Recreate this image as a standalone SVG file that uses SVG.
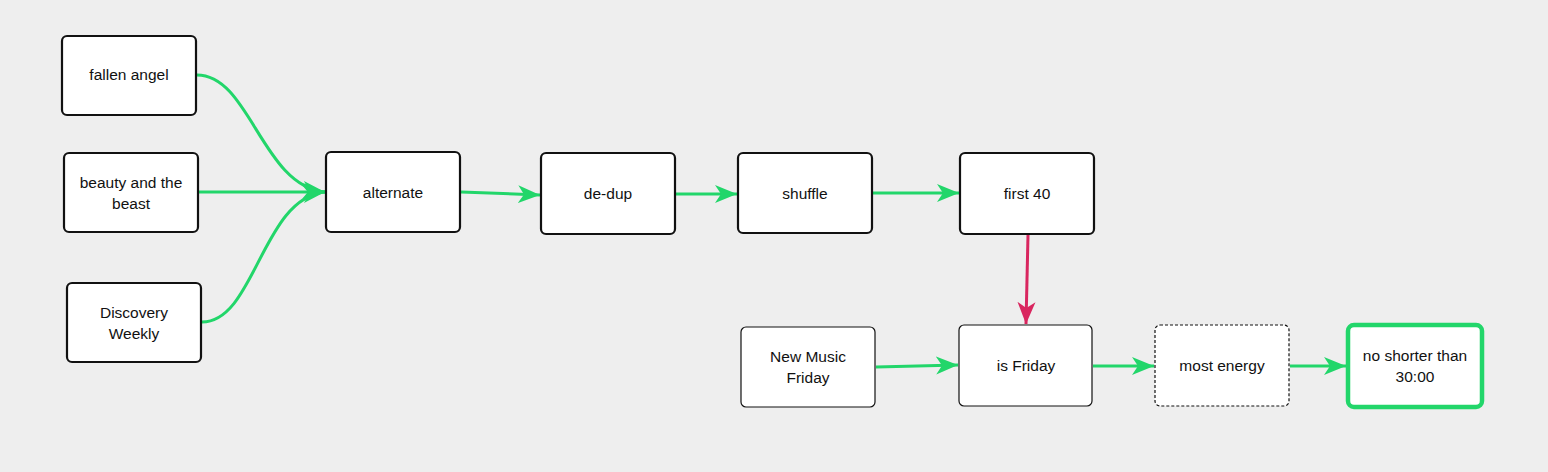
<svg xmlns="http://www.w3.org/2000/svg" width="1548" height="472" viewBox="0 0 1548 472">
<style>
.n rect{fill:#fff;stroke:#111;stroke-width:2.2}
.thin rect{stroke-width:1.2}
.dash rect{stroke-width:1.2;stroke-dasharray:3 2}
.out rect{stroke:#22d66a;stroke-width:4.5}
text{font-family:"Liberation Sans",Arial,sans-serif;font-size:15.5px;fill:#111;text-anchor:middle}
.e{fill:none;stroke:#22d66a;stroke-width:3}
.p{fill:none;stroke:#d9265f;stroke-width:3}
</style>
<defs>
<marker id="ag" markerUnits="userSpaceOnUse" markerWidth="24" markerHeight="22" viewBox="0 0 24 22" refX="22" refY="11" orient="auto">
<path d="M0,2 L22,11 L0,20 L6,11 Z" fill="#22d66a"/>
</marker>
<marker id="ap" markerUnits="userSpaceOnUse" markerWidth="24" markerHeight="22" viewBox="0 0 24 22" refX="22" refY="11" orient="auto">
<path d="M0,2 L22,11 L0,20 L6,11 Z" fill="#d9265f"/>
</marker>
</defs>
<rect width="1548" height="472" fill="#eeeeee"/>
<g id="connectors">
<path class="e" marker-end="url(#ag)" d="M197,75 C250,75 262,186 325,192"/>
<path class="e" marker-end="url(#ag)" d="M199,192 L325,192"/>
<path class="e" marker-end="url(#ag)" d="M202,322 C255,322 262,198 325,192"/>
<path class="e" marker-end="url(#ag)" d="M461,192 L540,195"/>
<path class="e" marker-end="url(#ag)" d="M676,194 L737,194"/>
<path class="e" marker-end="url(#ag)" d="M873,193 L959,193"/>
<path class="p" marker-end="url(#ap)" d="M1028,235 L1026,324"/>
<path class="e" marker-end="url(#ag)" d="M876,367 L958,365"/>
<path class="e" marker-end="url(#ag)" d="M1093,366 L1154,366"/>
<path class="e" marker-end="url(#ag)" d="M1290,366 L1346,366"/>
</g>
<g id="fallen-angel" class="n"><rect x="62" y="36" width="134" height="79" rx="5"/><text x="129" y="80">fallen angel</text></g>
<g id="beauty" class="n"><rect x="64" y="153" width="134" height="79" rx="5"/><text x="131" y="188">beauty and the</text><text x="131" y="209">beast</text></g>
<g id="discovery" class="n"><rect x="67" y="283" width="134" height="79" rx="5"/><text x="134" y="318">Discovery</text><text x="134" y="339">Weekly</text></g>
<g id="alternate" class="n"><rect x="326" y="152" width="134" height="80" rx="5"/><text x="393" y="198">alternate</text></g>
<g id="dedup" class="n"><rect x="541" y="153" width="134" height="81" rx="5"/><text x="608" y="199">de-dup</text></g>
<g id="shuffle" class="n"><rect x="738" y="153" width="134" height="80" rx="5"/><text x="805" y="199">shuffle</text></g>
<g id="first40" class="n"><rect x="960" y="153" width="134" height="81" rx="5"/><text x="1027" y="199">first 40</text></g>
<g id="nmf" class="n thin"><rect x="741" y="327" width="134" height="80" rx="5"/><text x="808" y="362">New Music</text><text x="808" y="383">Friday</text></g>
<g id="isfriday" class="n thin"><rect x="959" y="325" width="133" height="81" rx="5"/><text x="1026" y="371">is Friday</text></g>
<g id="mostenergy" class="n dash"><rect x="1155" y="325" width="134" height="81" rx="5"/><text x="1222" y="371">most energy</text></g>
<g id="noshorter" class="n out"><rect x="1348" y="325" width="134" height="82" rx="6"/><text x="1415" y="361">no shorter than</text><text x="1415" y="382">30:00</text></g>
</svg>
